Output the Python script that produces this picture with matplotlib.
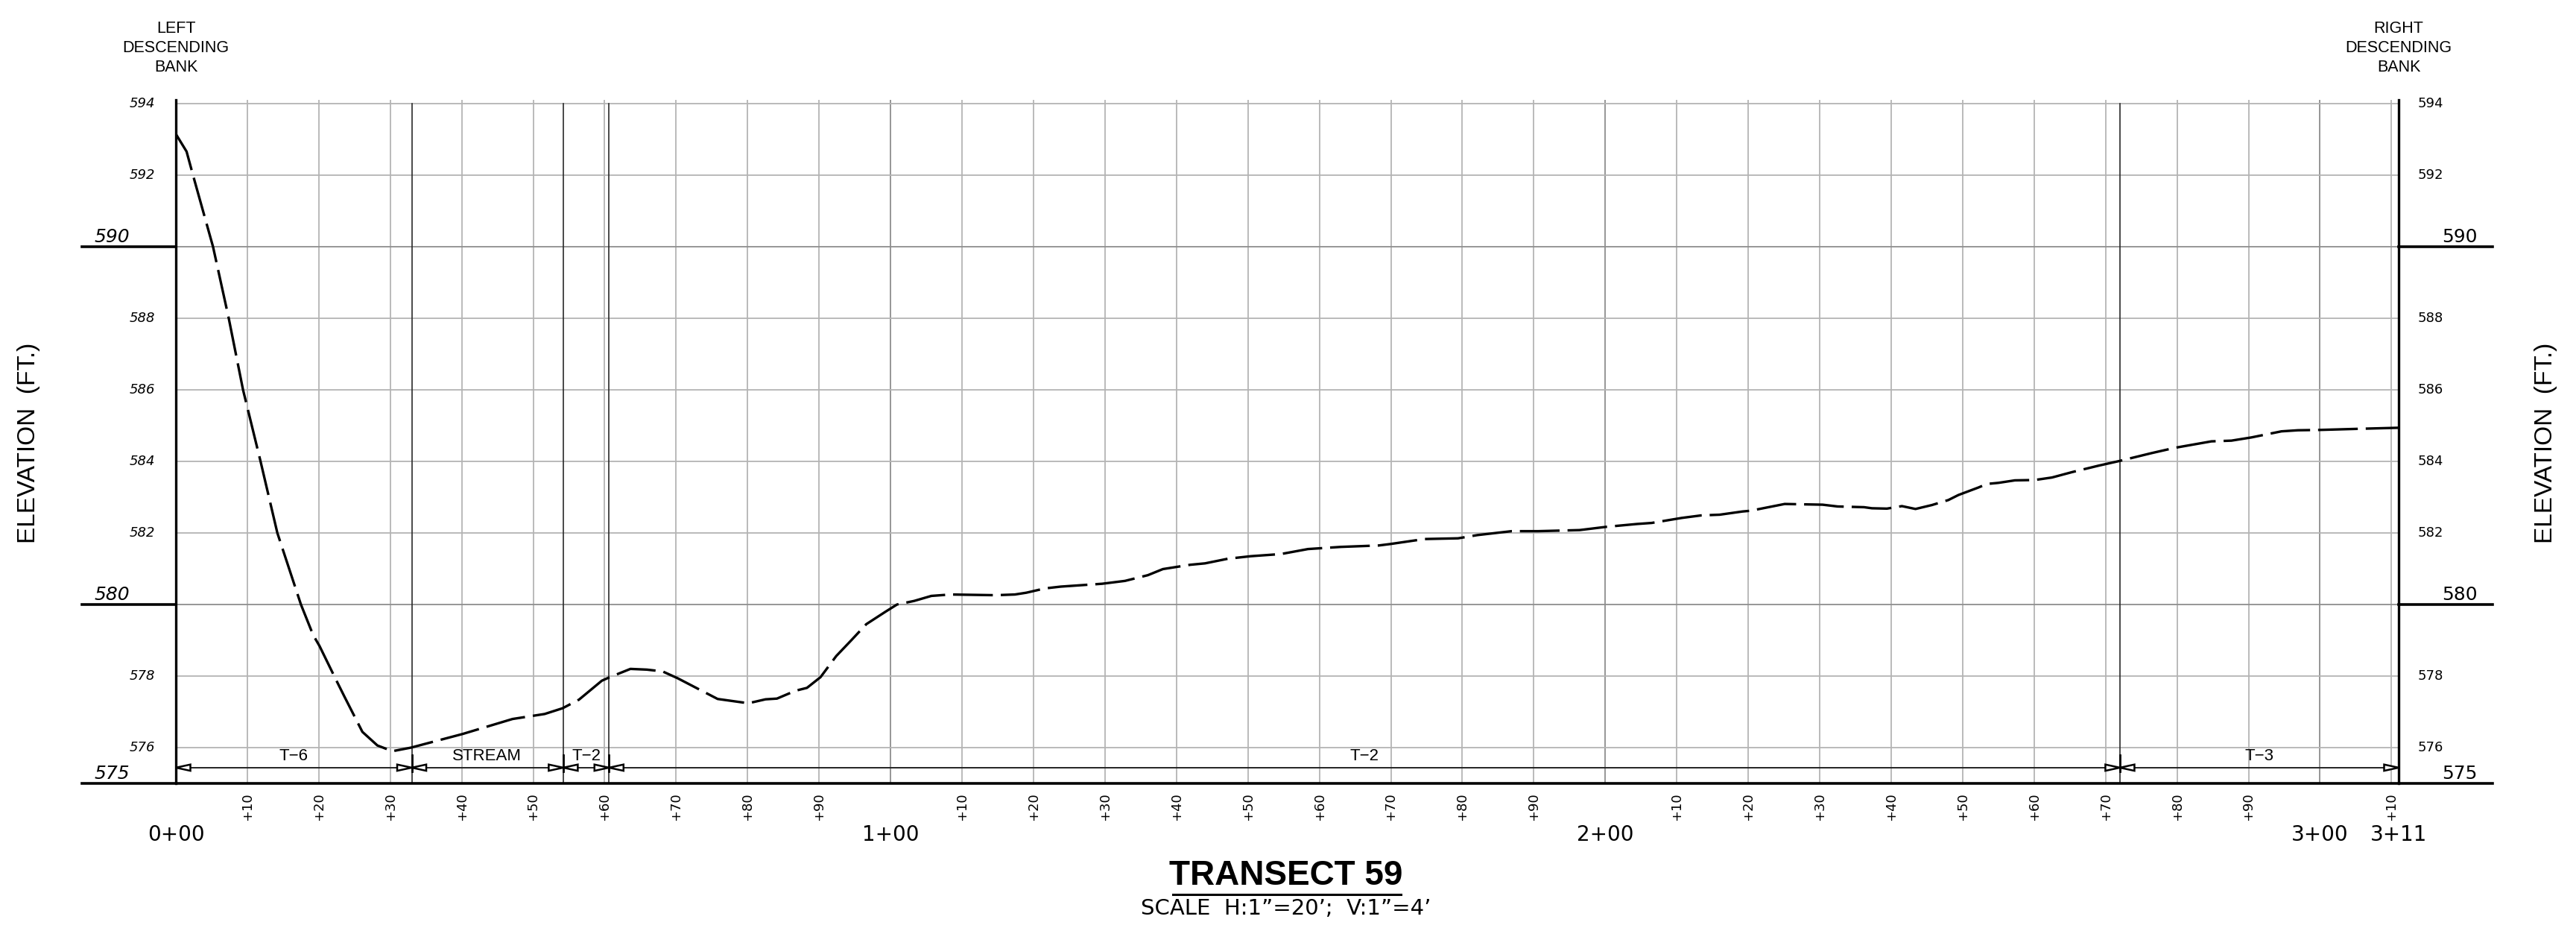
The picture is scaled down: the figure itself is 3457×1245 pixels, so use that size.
import matplotlib
matplotlib.use("Agg")
import matplotlib.pyplot as plt
from matplotlib import font_manager as fm
from matplotlib.patches import Polygon

# ---------------- data ----------------
stations = [0, 1.5, 2.4, 5.2, 7.4, 9.4, 11.85, 14.2, 17.5, 19.2, 20.1, 22.4, 23.6,
            26.1, 28.2, 30.3, 32.9, 40.1, 47.1, 51.6, 54.1, 56.4, 59.6, 60.6, 63.6,
            65.9, 68.1, 70.2, 72.9, 75.8, 80.1, 82.5, 84.1, 86.7, 88.3, 90.2, 92.4,
            94.5, 96.6, 99.3, 100.9, 103.3, 105.7, 108.4, 111.5, 114.7, 117.4, 119.0,
            121.6, 123.8, 129.6, 132.8, 136.0, 138.1, 141.9, 144.0, 147.2, 150.4,
            154.6, 158.4, 163.0, 168.3, 169.9, 174.7, 179.4, 182.1, 186.9, 190.6,
            196.4, 200.1, 204.4, 206.5, 210.7, 213.4, 216.0, 219.2, 220.3, 225.1,
            230.4, 232.5, 236.2, 237.3, 239.4, 241.5, 243.4, 245.7, 248.0, 249.4,
            252.2, 253.4, 255.0, 257.3, 260.1, 262.5, 265.3, 269.0, 271.9, 276.4,
            279.7, 284.8, 287.6, 290.4, 294.6, 296.9, 300.1, 305.3, 311.0]
elevations = [593.15, 592.66, 592.0, 590.0, 588.0, 586.0, 584.0, 582.0, 580.0, 579.15,
              578.84, 577.9, 577.42, 576.44, 576.06, 575.9, 576.0, 576.38, 576.8,
              576.94, 577.1, 577.34, 577.87, 577.96, 578.2, 578.18, 578.13, 577.94,
              577.66, 577.36, 577.24, 577.35, 577.37, 577.59, 577.67, 577.97, 578.56,
              579.0, 579.45, 579.8, 580.0, 580.1, 580.24, 580.28, 580.27, 580.26,
              580.28, 580.33, 580.45, 580.5, 580.58, 580.66, 580.82, 580.99, 581.11,
              581.15, 581.28, 581.35, 581.41, 581.55, 581.61, 581.65, 581.69, 581.83,
              581.85, 581.94, 582.05, 582.05, 582.08, 582.17, 582.25, 582.28, 582.42,
              582.49, 582.51, 582.6, 582.62, 582.81, 582.79, 582.74, 582.72, 582.69,
              582.68, 582.75, 582.67, 582.78, 582.92, 583.06, 583.27, 583.37, 583.4,
              583.47, 583.48, 583.55, 583.7, 583.88, 584.01, 584.23, 584.38, 584.56,
              584.58, 584.67, 584.84, 584.87, 584.88, 584.91, 584.94]

elev_minor_ticks = [576, 578, 582, 584, 586, 588, 592, 594]
elev_major_ticks = [575, 580, 590]
station_grid = list(range(10, 320, 10))
station_minor_labels = [s for s in range(10, 320, 10) if s % 100 != 0]
station_major_pos = [0, 100, 200, 300, 311]
station_major_text = ["0+00", "1+00", "2+00", "3+00", "3+11"]
boundaries = [33.0, 54.2, 60.6, 272.0]
zone_labels = ["T\u22126", "STREAM", "T\u22122", "T\u22122", "T\u22123"]
zone_label_pos = [16.5, 43.5, 57.4, 166.3, 291.5]
X_END = 311.0
Y_MIN, Y_TOP = 575.0, 594.1
DIM_Y = 575.44

# ---------------- fonts ----------------
names = {f.name for f in fm.fontManager.ttflist}
SANS = "Liberation Sans" if "Liberation Sans" in names else "DejaVu Sans"
NUM = "DejaVu Sans"

# ---------------- figure ----------------
W, H = 3457, 1245
fig = plt.figure(figsize=(W / 100, H / 100), dpi=100)
x0_px, x1_px = 236, 3219
yb_px = 1051
pxft_y = 48.0
ytop_px = yb_px - (Y_TOP - Y_MIN) * pxft_y
ax = fig.add_axes([x0_px / W, (H - yb_px) / H, (x1_px - x0_px) / W, (yb_px - ytop_px) / H])
ax.set_xlim(0, X_END)
ax.set_ylim(Y_MIN, Y_TOP)
ax.set_axis_off()
pxft_x = (x1_px - x0_px) / X_END

def sx(px):  # pixel x -> station
    return (px - x0_px) / pxft_x

def ey(py):  # pixel y -> elevation
    return Y_MIN + (yb_px - py) / pxft_y

GRID = "#b4b4b4"
GRID_D = "#8e8e8e"

# vertical grid
for s in station_grid:
    if s > X_END:
        continue
    c = GRID_D if s % 100 == 0 else GRID
    ax.plot([s, s], [Y_MIN, Y_TOP], color=c, lw=1.3, zorder=1)
# horizontal grid
for e in elev_minor_ticks + [580, 590]:
    c = GRID_D if e in (580, 590) else GRID
    ax.plot([0, X_END], [e, e], color=c, lw=1.3, zorder=1)

# boundary (extension) lines
for b in boundaries:
    ax.plot([b, b], [Y_MIN, 594.0], color="#2a2a2a", lw=1.2, zorder=2)
    ax.plot([b, b], [575.34, 575.8], color="black", lw=2.0, zorder=4)

# axes lines
ax.plot([0, 0], [Y_MIN, Y_TOP], color="black", lw=2.4, zorder=5, clip_on=False)
ax.plot([X_END, X_END], [Y_MIN, Y_TOP], color="black", lw=2.4, zorder=5, clip_on=False)
ext = 126 / pxft_x
for e in elev_major_ticks:
    if e == 575:
        ax.plot([-ext, X_END + ext], [e, e], color="black", lw=2.6, zorder=5, clip_on=False)
    else:
        ax.plot([-ext, 0], [e, e], color="black", lw=2.6, zorder=5, clip_on=False)
        ax.plot([X_END, X_END + ext], [e, e], color="black", lw=2.6, zorder=5, clip_on=False)

# dimension line + arrows
ax.plot([0, X_END], [DIM_Y, DIM_Y], color="#222222", lw=1.4, zorder=3)
aw = 19.5 / pxft_x
ah = 4.2 / pxft_y

def tri(tip, direction):
    base = tip - direction * aw
    p = Polygon([(tip, DIM_Y), (base, DIM_Y + ah), (base, DIM_Y - ah)], closed=True,
                facecolor="white", edgecolor="black", lw=1.8, zorder=6, clip_on=False)
    ax.add_patch(p)

tri(0, -1)
for b in boundaries:
    tri(b, 1)
    tri(b, -1)
tri(X_END, 1)

for lab, pos in zip(zone_labels, zone_label_pos):
    ax.text(pos, ey(1015), lab, ha="center", va="center", fontsize=16,
            family=SANS, zorder=7)

# ground profile
ln, = ax.plot(stations, elevations, color="black", lw=2.4, zorder=8,
              solid_capstyle="butt", dash_capstyle="butt")
ln.set_dashes([16, 3.2])

# elevation labels
for e in elev_minor_ticks:
    ax.text(sx(208), e, str(e), ha="right", va="center", fontsize=13,
            family=NUM, style="italic", clip_on=False)
    ax.text(sx(3245), e, str(e), ha="left", va="center", fontsize=13,
            family=NUM, clip_on=False)
for e in elev_major_ticks:
    ax.text(sx(174), e + 6 / pxft_y, str(e), ha="right", va="baseline", fontsize=18,
            family=NUM, style="italic", clip_on=False)
    ax.text(sx(3277), e + 6 / pxft_y, str(e), ha="left", va="baseline", fontsize=18,
            family=NUM, clip_on=False)

# station labels
for s in station_minor_labels:
    if s > X_END:
        continue
    ax.text(s, ey(1063), "+%d" % (s % 100), rotation=90, ha="center", va="top",
            fontsize=13, family=NUM, clip_on=False)
for s, t in zip(station_major_pos, station_major_text):
    ax.text(s, ey(1120), t, ha="center", va="center", fontsize=20, family=NUM,
            clip_on=False)

# axis titles
for xpx in (39, 3417):
    ax.text(sx(xpx), ey(594), "ELEVATION  (FT.)", rotation=90, ha="center",
            va="center", fontsize=24, family=SANS, clip_on=False)

# bank labels
for xs, word in ((0, "LEFT"), (X_END, "RIGHT")):
    for txt, ypx in ((word, 39), ("DESCENDING", 65), ("BANK", 90)):
        ax.text(xs, ey(ypx), txt, ha="center", va="center", fontsize=15.5,
                family=SANS, clip_on=False)

# title
tx = sx(1726)
ax.text(tx, ey(1175), "TRANSECT 59", ha="center", va="center", fontsize=33,
        family=SANS, weight="bold", clip_on=False)
ax.plot([sx(1574), sx(1880)], [ey(1200), ey(1200)], color="black", lw=2.2,
        clip_on=False)
ax.text(tx, ey(1219), "SCALE  H:1\u201d=20\u2019;  V:1\u201d=4\u2019", ha="center",
        va="center", fontsize=21, family=NUM, clip_on=False)

fig.savefig("out.png", dpi=100, facecolor="white")
